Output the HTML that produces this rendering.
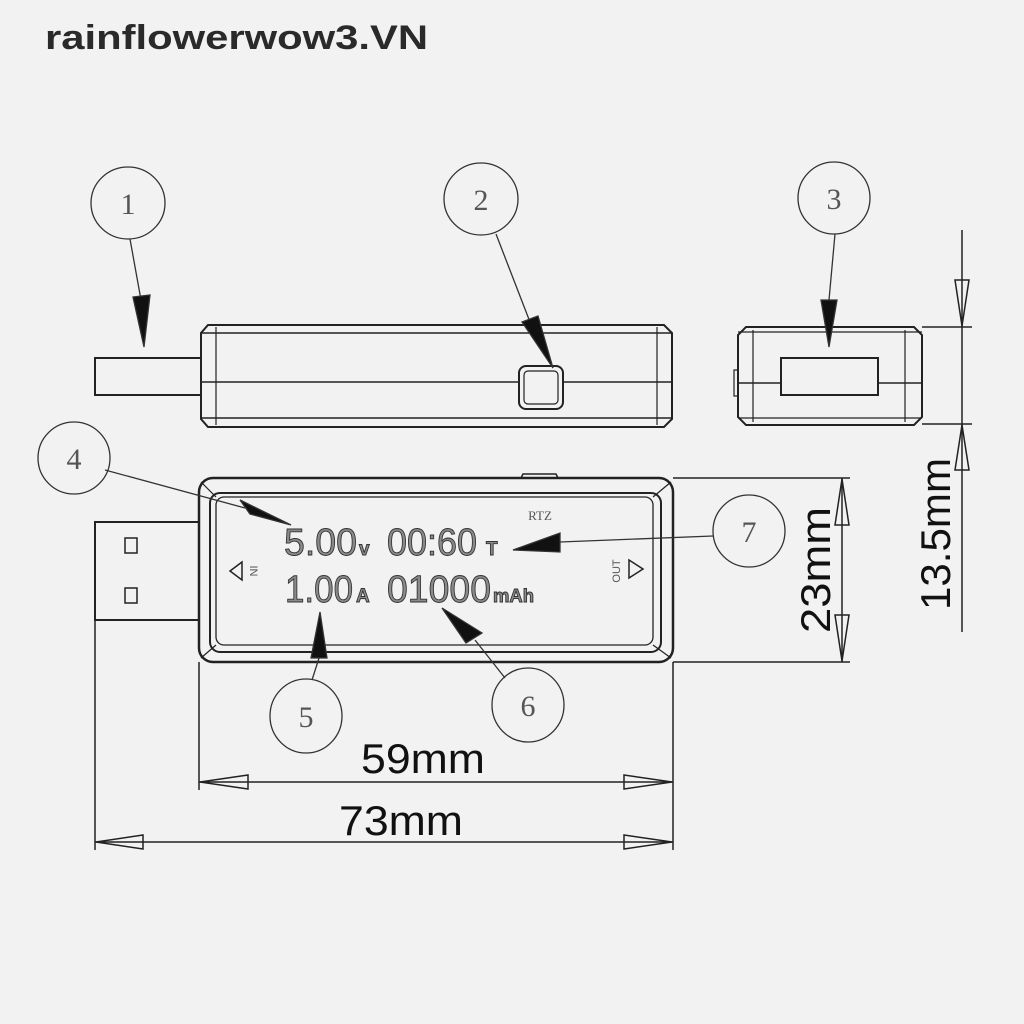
<!DOCTYPE html>
<html><head><meta charset="utf-8"><style>
html,body{margin:0;padding:0;background:#f2f2f2;}
svg{display:block}
</style></head><body>
<svg width="1024" height="1024" viewBox="0 0 1024 1024" xmlns="http://www.w3.org/2000/svg">
<rect width="1024" height="1024" fill="#f2f2f2"/>
<text x="45" y="49" font-family="Liberation Sans, sans-serif" font-weight="bold" font-size="34" fill="#2a2a2a" textLength="383" lengthAdjust="spacingAndGlyphs">rainflowerwow3.VN</text>

<g fill="none" stroke="#333" stroke-width="1.3">
<!-- callout circles -->
<ellipse cx="128" cy="203" rx="37" ry="36"/>
<ellipse cx="481" cy="199" rx="37" ry="36"/>
<ellipse cx="834" cy="198" rx="36" ry="36"/>
<ellipse cx="74" cy="458" rx="36" ry="36"/>
<ellipse cx="749" cy="531" rx="36" ry="36"/>
<ellipse cx="306" cy="716" rx="36" ry="37"/>
<ellipse cx="528" cy="705" rx="36" ry="37"/>
</g>
<g font-family="Liberation Serif, serif" font-size="30" fill="#555" text-anchor="middle">
<text x="128" y="214">1</text><text x="481" y="210">2</text><text x="834" y="209">3</text>
<text x="74" y="469">4</text><text x="749" y="542">7</text><text x="306" y="727">5</text><text x="528" y="716">6</text>
</g>

<!-- top side view -->
<g fill="none" stroke="#222" stroke-width="2">
<rect x="95" y="358" width="106" height="37"/>
<path d="M208 325 L664 325 L672 333 L672 419 L664 427 L208 427 L201 419 L201 333 Z"/>
<line x1="201" y1="333" x2="672" y2="333" stroke-width="1.5"/>
<line x1="201" y1="418" x2="672" y2="418" stroke-width="1.5"/>
<line x1="216" y1="327" x2="216" y2="425" stroke-width="1.2"/>
<line x1="657" y1="327" x2="657" y2="425" stroke-width="1.2"/>
<line x1="201" y1="382" x2="519" y2="382" stroke-width="1.5"/>
<line x1="563" y1="382" x2="672" y2="382" stroke-width="1.5"/>
<rect x="519" y="366" width="44" height="43" rx="7"/>
<rect x="524" y="371" width="34" height="33" rx="4" stroke-width="1.2"/>
</g>
<!-- end view -->
<g fill="none" stroke="#222" stroke-width="2">
<path d="M746 327 L914 327 L922 335 L922 417 L914 425 L746 425 L738 417 L738 335 Z"/>
<line x1="738" y1="332" x2="922" y2="332" stroke-width="1.2"/>
<line x1="738" y1="418" x2="922" y2="418" stroke-width="1.2"/>
<line x1="753" y1="330" x2="753" y2="422" stroke-width="1.2"/>
<line x1="905" y1="330" x2="905" y2="422" stroke-width="1.2"/>
<line x1="738" y1="383" x2="781" y2="383" stroke-width="1.5"/>
<line x1="878" y1="383" x2="922" y2="383" stroke-width="1.5"/>
<rect x="781" y="358" width="97" height="37"/>
<rect x="734" y="370" width="4" height="26" stroke-width="1.2"/>
</g>
<!-- front view -->
<g fill="none" stroke="#222" stroke-width="2">
<rect x="95" y="522" width="104" height="98"/>
<rect x="125" y="538" width="12" height="15" stroke-width="1.5"/>
<rect x="125" y="588" width="12" height="15" stroke-width="1.5"/>
<rect x="199" y="478" width="474" height="184" rx="14" stroke-width="2.5"/>
<rect x="210" y="493" width="451" height="159" rx="10" stroke-width="2"/>
<rect x="216" y="497" width="437" height="148" rx="8" stroke-width="1.3"/>
<line x1="201" y1="482" x2="216" y2="497" stroke-width="1.2"/>
<line x1="671" y1="482" x2="653" y2="497" stroke-width="1.2"/>
<line x1="201" y1="658" x2="216" y2="645" stroke-width="1.2"/>
<line x1="671" y1="658" x2="653" y2="645" stroke-width="1.2"/>
<path d="M521 478 L523 474 L556 474 L558 478" stroke-width="1.5"/>
<path d="M242 562 L230 571 L242 580 Z" stroke-width="1.5"/>
<path d="M629 560 L643 569 L629 578 Z" stroke-width="1.5"/>
</g>
<text x="540" y="520" font-family="Liberation Serif, serif" font-size="13" fill="#555" text-anchor="middle">RTZ</text>
<text transform="translate(250,571) rotate(90)" font-family="Liberation Sans, sans-serif" font-size="11" fill="#555" text-anchor="middle">IN</text>
<text transform="translate(620,571) rotate(-90)" font-family="Liberation Sans, sans-serif" font-size="11" fill="#555" text-anchor="middle">OUT</text>
<g font-family="Liberation Sans, sans-serif" fill="#8a8a8a" stroke="#333" stroke-width="0.9">
<text x="284" y="555" font-size="38" textLength="73" lengthAdjust="spacingAndGlyphs">5.00</text>
<text x="359" y="555" font-size="19" font-weight="bold">v</text>
<text x="387" y="555" font-size="38" textLength="90" lengthAdjust="spacingAndGlyphs">00:60</text>
<text x="486" y="555" font-size="19" font-weight="bold">T</text>
<text x="285" y="602" font-size="38" textLength="68" lengthAdjust="spacingAndGlyphs">1.00</text>
<text x="356" y="602" font-size="19" font-weight="bold">A</text>
<text x="387" y="602" font-size="38" textLength="104" lengthAdjust="spacingAndGlyphs">01000</text>
<text x="493" y="602" font-size="18" font-weight="bold" textLength="41" lengthAdjust="spacingAndGlyphs">mAh</text>
</g>

<!-- leader arrows -->
<g stroke="#333" stroke-width="1.3" fill="#111">
<line x1="130" y1="239" x2="141" y2="300"/><path d="M133 297 L150 295 L144 347 Z"/>
<line x1="496" y1="234" x2="530" y2="322"/><path d="M522 322 L538 316 L553 368 Z"/>
<line x1="835" y1="234" x2="829" y2="300"/><path d="M821 300 L837 300 L829 347 Z"/>
<line x1="105" y1="470" x2="245" y2="508"/><path d="M240 500 L250 514 L291 525 Z"/>
<line x1="713" y1="536" x2="560" y2="542"/><path d="M560 533 L560 552 L513 550 Z"/>
<line x1="320" y1="655" x2="312" y2="680"/><path d="M311 658 L327 658 L320 612 Z"/>
<line x1="475" y1="640" x2="505" y2="678"/><path d="M466 643 L482 633 L442 608 Z"/>
</g>

<!-- dimensions -->
<g stroke="#222" stroke-width="1.5" fill="none">
<line x1="962" y1="230" x2="962" y2="632"/>
<line x1="922" y1="327" x2="972" y2="327"/>
<line x1="922" y1="424" x2="972" y2="424"/>
<path d="M955 280 L969 280 L962 326 Z"/>
<path d="M955 470 L969 470 L962 425 Z"/>
<line x1="842" y1="478" x2="842" y2="662"/>
<line x1="673" y1="478" x2="850" y2="478"/>
<line x1="673" y1="662" x2="850" y2="662"/>
<path d="M835 525 L849 525 L842 479 Z"/>
<path d="M835 615 L849 615 L842 661 Z"/>
<line x1="199" y1="662" x2="199" y2="790"/>
<line x1="673" y1="662" x2="673" y2="850"/>
<line x1="95" y1="620" x2="95" y2="850"/>
<line x1="199" y1="782" x2="673" y2="782"/>
<path d="M248 775 L248 789 L200 782 Z"/>
<path d="M624 775 L624 789 L672 782 Z"/>
<line x1="95" y1="842" x2="673" y2="842"/>
<path d="M143 835 L143 849 L96 842 Z"/>
<path d="M624 835 L624 849 L672 842 Z"/>
</g>
<g font-family="Liberation Sans, sans-serif" fill="#111" font-size="42">
<text x="361" y="773" textLength="124" lengthAdjust="spacingAndGlyphs">59mm</text>
<text x="339" y="835" textLength="124" lengthAdjust="spacingAndGlyphs">73mm</text>
<text transform="translate(830,633) rotate(-90)" textLength="126" lengthAdjust="spacingAndGlyphs">23mm</text>
<text transform="translate(950,610) rotate(-90)" textLength="152" lengthAdjust="spacingAndGlyphs">13.5mm</text>
</g>
</svg>
</body></html>
